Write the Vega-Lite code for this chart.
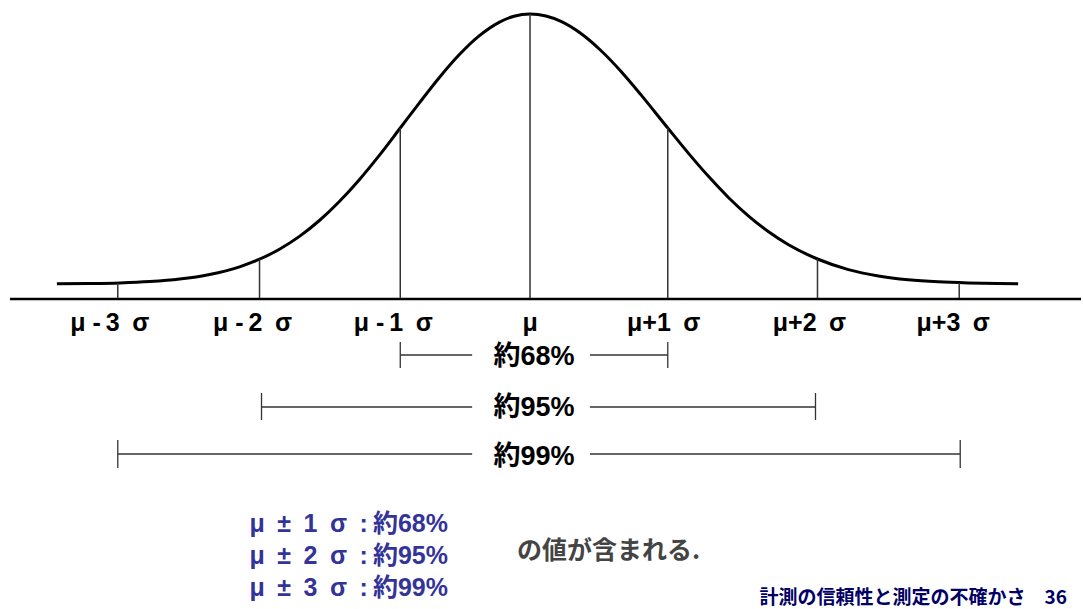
{
  "$schema": "https://vega.github.io/schema/vega-lite/v6.json",
  "width": 1083,
  "height": 609,
  "padding": 0,
  "autosize": {"type": "fit", "contains": "padding"},
  "background": "white",
  "config": {"view": {"stroke": null}},
  "layer": [
    {
      "data": {"values": [
        {"x": 57, "y": 283.8}, {"x": 90, "y": 283.5}, {"x": 120, "y": 282.9}, {"x": 150, "y": 281.6},
        {"x": 180, "y": 279.1}, {"x": 210, "y": 274.5}, {"x": 240, "y": 266.8}, {"x": 260, "y": 259.2},
        {"x": 280, "y": 249.2}, {"x": 300, "y": 236.4}, {"x": 320, "y": 220.5}, {"x": 340, "y": 201.5},
        {"x": 360, "y": 179.7}, {"x": 380, "y": 155.4}, {"x": 401, "y": 128}, {"x": 420, "y": 103.1},
        {"x": 440, "y": 77.7}, {"x": 460, "y": 54.8}, {"x": 480, "y": 35.9}, {"x": 500, "y": 22.3},
        {"x": 515, "y": 16.2}, {"x": 531, "y": 14}, {"x": 547, "y": 16.0}, {"x": 562, "y": 21.4},
        {"x": 582, "y": 33.5}, {"x": 602, "y": 50.5}, {"x": 622, "y": 71.2}, {"x": 642, "y": 94.6},
        {"x": 669, "y": 128}, {"x": 690, "y": 153.6}, {"x": 710, "y": 176.6}, {"x": 730, "y": 197.7},
        {"x": 750, "y": 216.1}, {"x": 770, "y": 231.8}, {"x": 790, "y": 244.8}, {"x": 819, "y": 259},
        {"x": 850, "y": 269.6}, {"x": 880, "y": 275.9}, {"x": 910, "y": 279.7}, {"x": 940, "y": 281.8},
        {"x": 970, "y": 282.9}, {"x": 1000, "y": 283.5}, {"x": 1020, "y": 283.8}
      ]},
      "mark": {"type": "line", "color": "black", "strokeWidth": 3, "interpolate": "monotone"},
      "encoding": {
        "x": {"field": "x", "type": "quantitative", "scale": {"domain": [0, 1083], "nice": false, "zero": false}, "axis": null},
        "y": {"field": "y", "type": "quantitative", "scale": {"domain": [0, 609], "nice": false, "zero": false, "reverse": true}, "axis": null}
      }
    },
    {
      "data": {"values": [{"x": 10, "x2": 1083, "y": 299}]},
      "mark": {"type": "rule", "color": "black", "strokeWidth": 2.5},
      "encoding": {
        "x": {"field": "x", "type": "quantitative"},
        "x2": {"field": "x2"},
        "y": {"field": "y", "type": "quantitative"}
      }
    },
    {
      "data": {"values": [
        {"x": 118, "y": 298, "top": 283}, {"x": 260, "y": 298, "top": 259}, {"x": 401, "y": 298, "top": 128},
        {"x": 531, "y": 298, "top": 14}, {"x": 669, "y": 298, "top": 128}, {"x": 819, "y": 298, "top": 259},
        {"x": 961, "y": 298, "top": 283}
      ]},
      "mark": {"type": "rule", "color": "#333333", "strokeWidth": 1.5},
      "encoding": {
        "x": {"field": "x", "type": "quantitative"},
        "y": {"field": "y", "type": "quantitative"},
        "y2": {"field": "top"}
      }
    },
    {
      "data": {"values": [
        {"x": 110, "y": 323, "label": "μ -\u20093\u2002σ"}, {"x": 253, "y": 323, "label": "μ -\u20092\u2002σ"},
        {"x": 394, "y": 323, "label": "μ -\u20091\u2002σ"}, {"x": 531, "y": 323, "label": "μ"},
        {"x": 665, "y": 323, "label": "μ+1\u2002σ"}, {"x": 811, "y": 323, "label": "μ+2\u2002σ"},
        {"x": 955, "y": 323, "label": "μ+3\u2002σ"}
      ]},
      "mark": {"type": "text", "font": "Liberation Sans, Noto Sans CJK JP", "fontWeight": "bold", "fontSize": 25, "color": "black", "align": "center", "baseline": "middle"},
      "encoding": {
        "x": {"field": "x", "type": "quantitative"},
        "y": {"field": "y", "type": "quantitative"},
        "text": {"field": "label"}
      }
    },
    {
      "data": {"values": [
        {"x": 401, "x2": 473, "y": 355}, {"x": 591, "x2": 669, "y": 355},
        {"x": 262, "x2": 473, "y": 407}, {"x": 591, "x2": 817, "y": 407},
        {"x": 118, "x2": 473, "y": 454}, {"x": 591, "x2": 962, "y": 454}
      ]},
      "mark": {"type": "rule", "color": "#333333", "strokeWidth": 1.3},
      "encoding": {
        "x": {"field": "x", "type": "quantitative"},
        "x2": {"field": "x2"},
        "y": {"field": "y", "type": "quantitative"}
      }
    },
    {
      "data": {"values": [
        {"x": 401, "y": 342, "y2": 368}, {"x": 669, "y": 342, "y2": 368},
        {"x": 262, "y": 393, "y2": 420}, {"x": 817, "y": 393, "y2": 420},
        {"x": 118, "y": 440, "y2": 468}, {"x": 962, "y": 440, "y2": 468}
      ]},
      "mark": {"type": "rule", "color": "#333333", "strokeWidth": 1.3},
      "encoding": {
        "x": {"field": "x", "type": "quantitative"},
        "y": {"field": "y", "type": "quantitative"},
        "y2": {"field": "y2"}
      }
    },
    {
      "data": {"values": [
        {"x": 535, "y": 357, "label": "約68%"},
        {"x": 535, "y": 408, "label": "約95%"},
        {"x": 535, "y": 457, "label": "約99%"}
      ]},
      "mark": {"type": "text", "font": "Liberation Sans, Noto Sans CJK JP", "fontWeight": "bold", "fontSize": 27, "color": "black", "align": "center", "baseline": "middle"},
      "encoding": {
        "x": {"field": "x", "type": "quantitative"},
        "y": {"field": "y", "type": "quantitative"},
        "text": {"field": "label"}
      }
    },
    {
      "data": {"values": [
        {"x": 250, "y": 524, "label": "μ\u2002±\u20021\u2002σ\u2002:\u2009約68%"},
        {"x": 250, "y": 556, "label": "μ\u2002±\u20022\u2002σ\u2002:\u2009約95%"},
        {"x": 250, "y": 588, "label": "μ\u2002±\u20023\u2002σ\u2002:\u2009約99%"}
      ]},
      "mark": {"type": "text", "font": "Liberation Sans, Noto Sans CJK JP", "fontWeight": "bold", "fontSize": 25, "color": "#333399", "align": "left", "baseline": "middle"},
      "encoding": {
        "x": {"field": "x", "type": "quantitative"},
        "y": {"field": "y", "type": "quantitative"},
        "text": {"field": "label"}
      }
    },
    {
      "data": {"values": [{"x": 518, "y": 551, "label": "の値が含まれる."}]},
      "mark": {"type": "text", "font": "Noto Sans CJK JP", "fontWeight": "bold", "fontSize": 25, "color": "#444444", "align": "left", "baseline": "middle"},
      "encoding": {
        "x": {"field": "x", "type": "quantitative"},
        "y": {"field": "y", "type": "quantitative"},
        "text": {"field": "label"}
      }
    },
    {
      "data": {"values": [{"x": 1069, "y": 598, "label": "計測の信頼性と測定の不確かさ　36"}]},
      "mark": {"type": "text", "font": "Noto Sans CJK JP", "fontWeight": "bold", "fontSize": 19, "color": "#000066", "align": "right", "baseline": "middle"},
      "encoding": {
        "x": {"field": "x", "type": "quantitative"},
        "y": {"field": "y", "type": "quantitative"},
        "text": {"field": "label"}
      }
    }
  ]
}
